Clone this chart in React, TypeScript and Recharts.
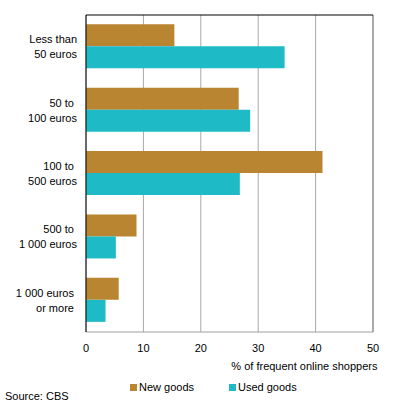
import React from 'react';
import {
  BarChart, Bar, XAxis, YAxis, CartesianGrid, Legend, ReferenceLine,
} from 'recharts';

// Purchase amount categories, each label split over two lines
const categories = [
  ['Less than', '50 euros'],
  ['50 to ', '100 euros'],
  ['100 to ', '500 euros'],
  ['500 to ', '1 000 euros'],
  ['1 000 euros ', 'or more '],
];
const newGoods = [15.4, 26.6, 41.2, 8.8, 5.7];
const usedGoods = [34.6, 28.6, 26.8, 5.2, 3.4];
const xTicks = [0, 10, 20, 30, 40, 50];

const data = categories.map((lines, i) => ({
  name: lines.join('|'),
  newGoods: newGoods[i],
  usedGoods: usedGoods[i],
}));

const FONT = 'Arial, "Liberation Sans", sans-serif';
const NEW_COLOR = '#B98530';
const USED_COLOR = '#1EBBC6';

const CategoryTick = (props: any) => {
  const { y, payload } = props;
  const lines = String(payload.value).split('|');
  return (
    <text
      x={77}
      y={y}
      textAnchor="end"
      fontSize={11}
      fontFamily={FONT}
      fill="#000"
      style={{ whiteSpace: 'pre' }}
    >
      <tspan x={77} dy={-3.5}>{lines[0]}</tspan>
      <tspan x={77} dy={15}>{lines[1]}</tspan>
    </text>
  );
};

const AxisTitle = (props: any) => {
  const { viewBox } = props;
  return (
    <text
      x={viewBox.x + viewBox.width + 4.5}
      y={viewBox.y + 38}
      textAnchor="end"
      fontSize={11}
      fontFamily={FONT}
      fill="#000"
    >
      % of frequent online shoppers
    </text>
  );
};

const LegendContent = () => (
  <div style={{ display: 'flex', fontFamily: FONT, fontSize: 11, color: '#000' }}>
    <div style={{ display: 'flex', alignItems: 'center', width: 99 }}>
      <span style={{ width: 7, height: 7, background: NEW_COLOR, marginRight: 2 }} />
      New goods
    </div>
    <div style={{ display: 'flex', alignItems: 'center' }}>
      <span style={{ width: 7, height: 7, background: USED_COLOR, marginRight: 2 }} />
      Used goods
    </div>
  </div>
);

export default function App() {
  return (
    <div style={{ position: 'absolute', left: 0, top: 0, width: 396, height: 409, background: '#fff' }}>
      <BarChart
        width={396}
        height={409}
        data={data}
        layout="vertical"
        margin={{ top: 10, right: 23, left: 0, bottom: 27 }}
        barCategoryGap="14.6%"
        barGap={0}
      >
        <CartesianGrid horizontal={false} stroke="#A8A8A8" xAxisId="bottom" />
        <XAxis
          xAxisId="top"
          orientation="top"
          type="number"
          domain={[0, 50]}
          ticks={xTicks}
          height={5}
          tick={false}
          tickSize={3}
          axisLine={{ stroke: '#000' }}
          tickLine={{ stroke: '#000' }}
        />
        <XAxis
          xAxisId="bottom"
          orientation="bottom"
          type="number"
          domain={[0, 50]}
          ticks={xTicks}
          height={50}
          tickLine={false}
          tickMargin={6}
          axisLine={{ stroke: '#A0A0A0' }}
          tick={{ fontSize: 11, fontFamily: FONT, fill: '#000' }}
          label={<AxisTitle />}
        />
        <YAxis
          type="category"
          dataKey="name"
          width={86}
          tickLine={false}
          axisLine={{ stroke: '#000' }}
          tick={<CategoryTick />}
          interval={0}
        />
        <ReferenceLine x={50} xAxisId="bottom" stroke="#808080" />
        <Legend
          verticalAlign="middle"
          align="center"
          content={<LegendContent />}
          wrapperStyle={{ position: 'absolute', top: 381, left: 130, width: 200 }}
        />
        <Bar dataKey="newGoods" xAxisId="bottom" fill={NEW_COLOR} isAnimationActive={false} />
        <Bar dataKey="usedGoods" xAxisId="bottom" fill={USED_COLOR} isAnimationActive={false} />
      </BarChart>
      <div
        style={{
          position: 'absolute', left: 5, top: 389, fontFamily: FONT, fontSize: 11,
          lineHeight: '14px', color: '#000',
        }}
      >
        Source: CBS
      </div>
    </div>
  );
}
